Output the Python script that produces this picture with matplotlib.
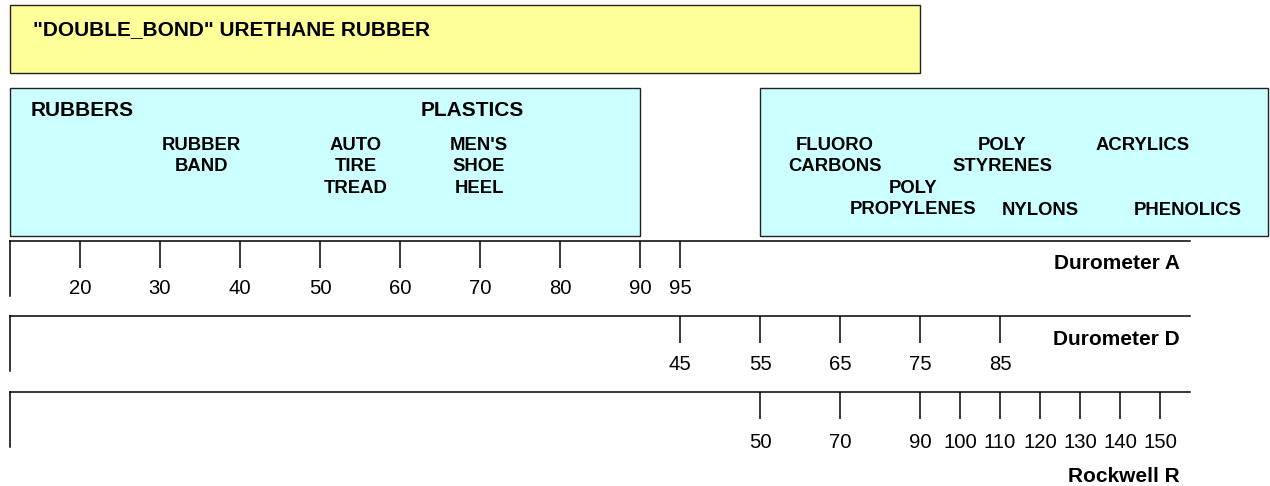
import matplotlib
matplotlib.use("Agg")
import matplotlib.pyplot as plt
from matplotlib.patches import Rectangle

plt.rcParams['font.family'] = ['Liberation Sans', 'DejaVu Sans']

# ---------------- data ----------------
durometer_a_ticks = [20, 30, 40, 50, 60, 70, 80, 90, 95]
durometer_d_ticks = [45, 55, 65, 75, 85]
rockwell_r_ticks = [50, 70, 90, 100, 110, 120, 130, 140, 150]
scale_names = ["Durometer A", "Durometer D", "Rockwell R"]

title_text = '"DOUBLE_BOND" URETHANE RUBBER'
header_labels = ["RUBBERS", "PLASTICS"]
left_box_labels = ["RUBBER\nBAND", "AUTO\nTIRE\nTREAD", "MEN'S\nSHOE\nHEEL"]
right_box_labels = ["FLUORO\nCARBONS", "POLY\nSTYRENES", "ACRYLICS",
                    "POLY\nPROPYLENES", "NYLONS", "PHENOLICS"]

# ---------------- layout (pixels) ----------------
W, H = 1270, 486
DPI = 100
FS_BIG = 15.0
FS_ITEM = 13.3
FS_TICK = 14.6

fig = plt.figure(figsize=(W / DPI, H / DPI), dpi=DPI)
bg = fig.add_axes([0, 0, 1, 1])
bg.set_xlim(0, W)
bg.set_ylim(H, 0)
bg.axis('off')

edge = '#222222'
bg.add_patch(Rectangle((10, 5), 910, 68, facecolor='#FFFF99', edgecolor=edge, lw=1.0))
bg.add_patch(Rectangle((10, 88), 630, 148, facecolor='#CCFFFF', edgecolor=edge, lw=1.0))
bg.add_patch(Rectangle((760, 88), 508, 148, facecolor='#CCFFFF', edgecolor=edge, lw=1.0))

def btext(x, y, s, size, ha='center'):
    bg.text(x, y, s, ha=ha, va='center', fontsize=size, fontweight='bold', color='black')

btext(33, 30, title_text, FS_BIG, ha='left')

header_pos = [(31, 110, 'left'), (472, 110, 'center')]
for lab, (x, y, ha) in zip(header_labels, header_pos):
    btext(x, y, lab, FS_BIG, ha)

LINE = 21.7
def multiline(x, y, lab, size):
    for i, part in enumerate(lab.split('\n')):
        btext(x, y + i * LINE, part, size)

left_pos = [(201, 145), (356, 145), (479, 145)]
for lab, (x, y) in zip(left_box_labels, left_pos):
    multiline(x, y, lab, FS_ITEM)

right_pos = [(835, 145), (1002, 145), (1143, 145), (913, 188), (1040, 210), (1188, 210)]
for lab, (x, y) in zip(right_box_labels, right_pos):
    multiline(x, y, lab, FS_ITEM)

# ---------------- scales ----------------
scale_ticks = [durometer_a_ticks, durometer_d_ticks, rockwell_r_ticks]
line_y = [241, 316, 392]
xlims = [(11.25, 158.75), (-38.75, 108.75), (-137.5, 157.5)]
name_y = [263, 339, 476]
label_pads_px = [-16.5, -16.5, -14.5]
AX_X0, AX_X1 = 10, 1190
VLEN = 55
TICK_LEN = 27

for ticks, ly, xl, nm, ny, pad in zip(scale_ticks, line_y, xlims, scale_names,
                                     name_y, label_pads_px):
    ax = fig.add_axes([AX_X0 / W, (H - ly - VLEN) / H, (AX_X1 - AX_X0) / W, VLEN / H])
    ax.set_xlim(*xl)
    ax.set_ylim(0, 1)
    ax.patch.set_alpha(0)
    for s in ['right', 'bottom']:
        ax.spines[s].set_visible(False)
    for s in ['top', 'left']:
        ax.spines[s].set_linewidth(1.1)
    ax.set_yticks([])
    ax.set_xticks(ticks)
    ax.set_xticklabels([str(t) for t in ticks])
    ax.xaxis.set_tick_params(which='major', top=True, bottom=False,
                             labeltop=False, labelbottom=True,
                             direction='in', length=TICK_LEN * 72 / DPI, width=1.1,
                             labelsize=FS_TICK, pad=pad * 72 / DPI)
    btext(1180, ny, nm, FS_BIG, ha='right')

fig.savefig('out.png', dpi=DPI)
